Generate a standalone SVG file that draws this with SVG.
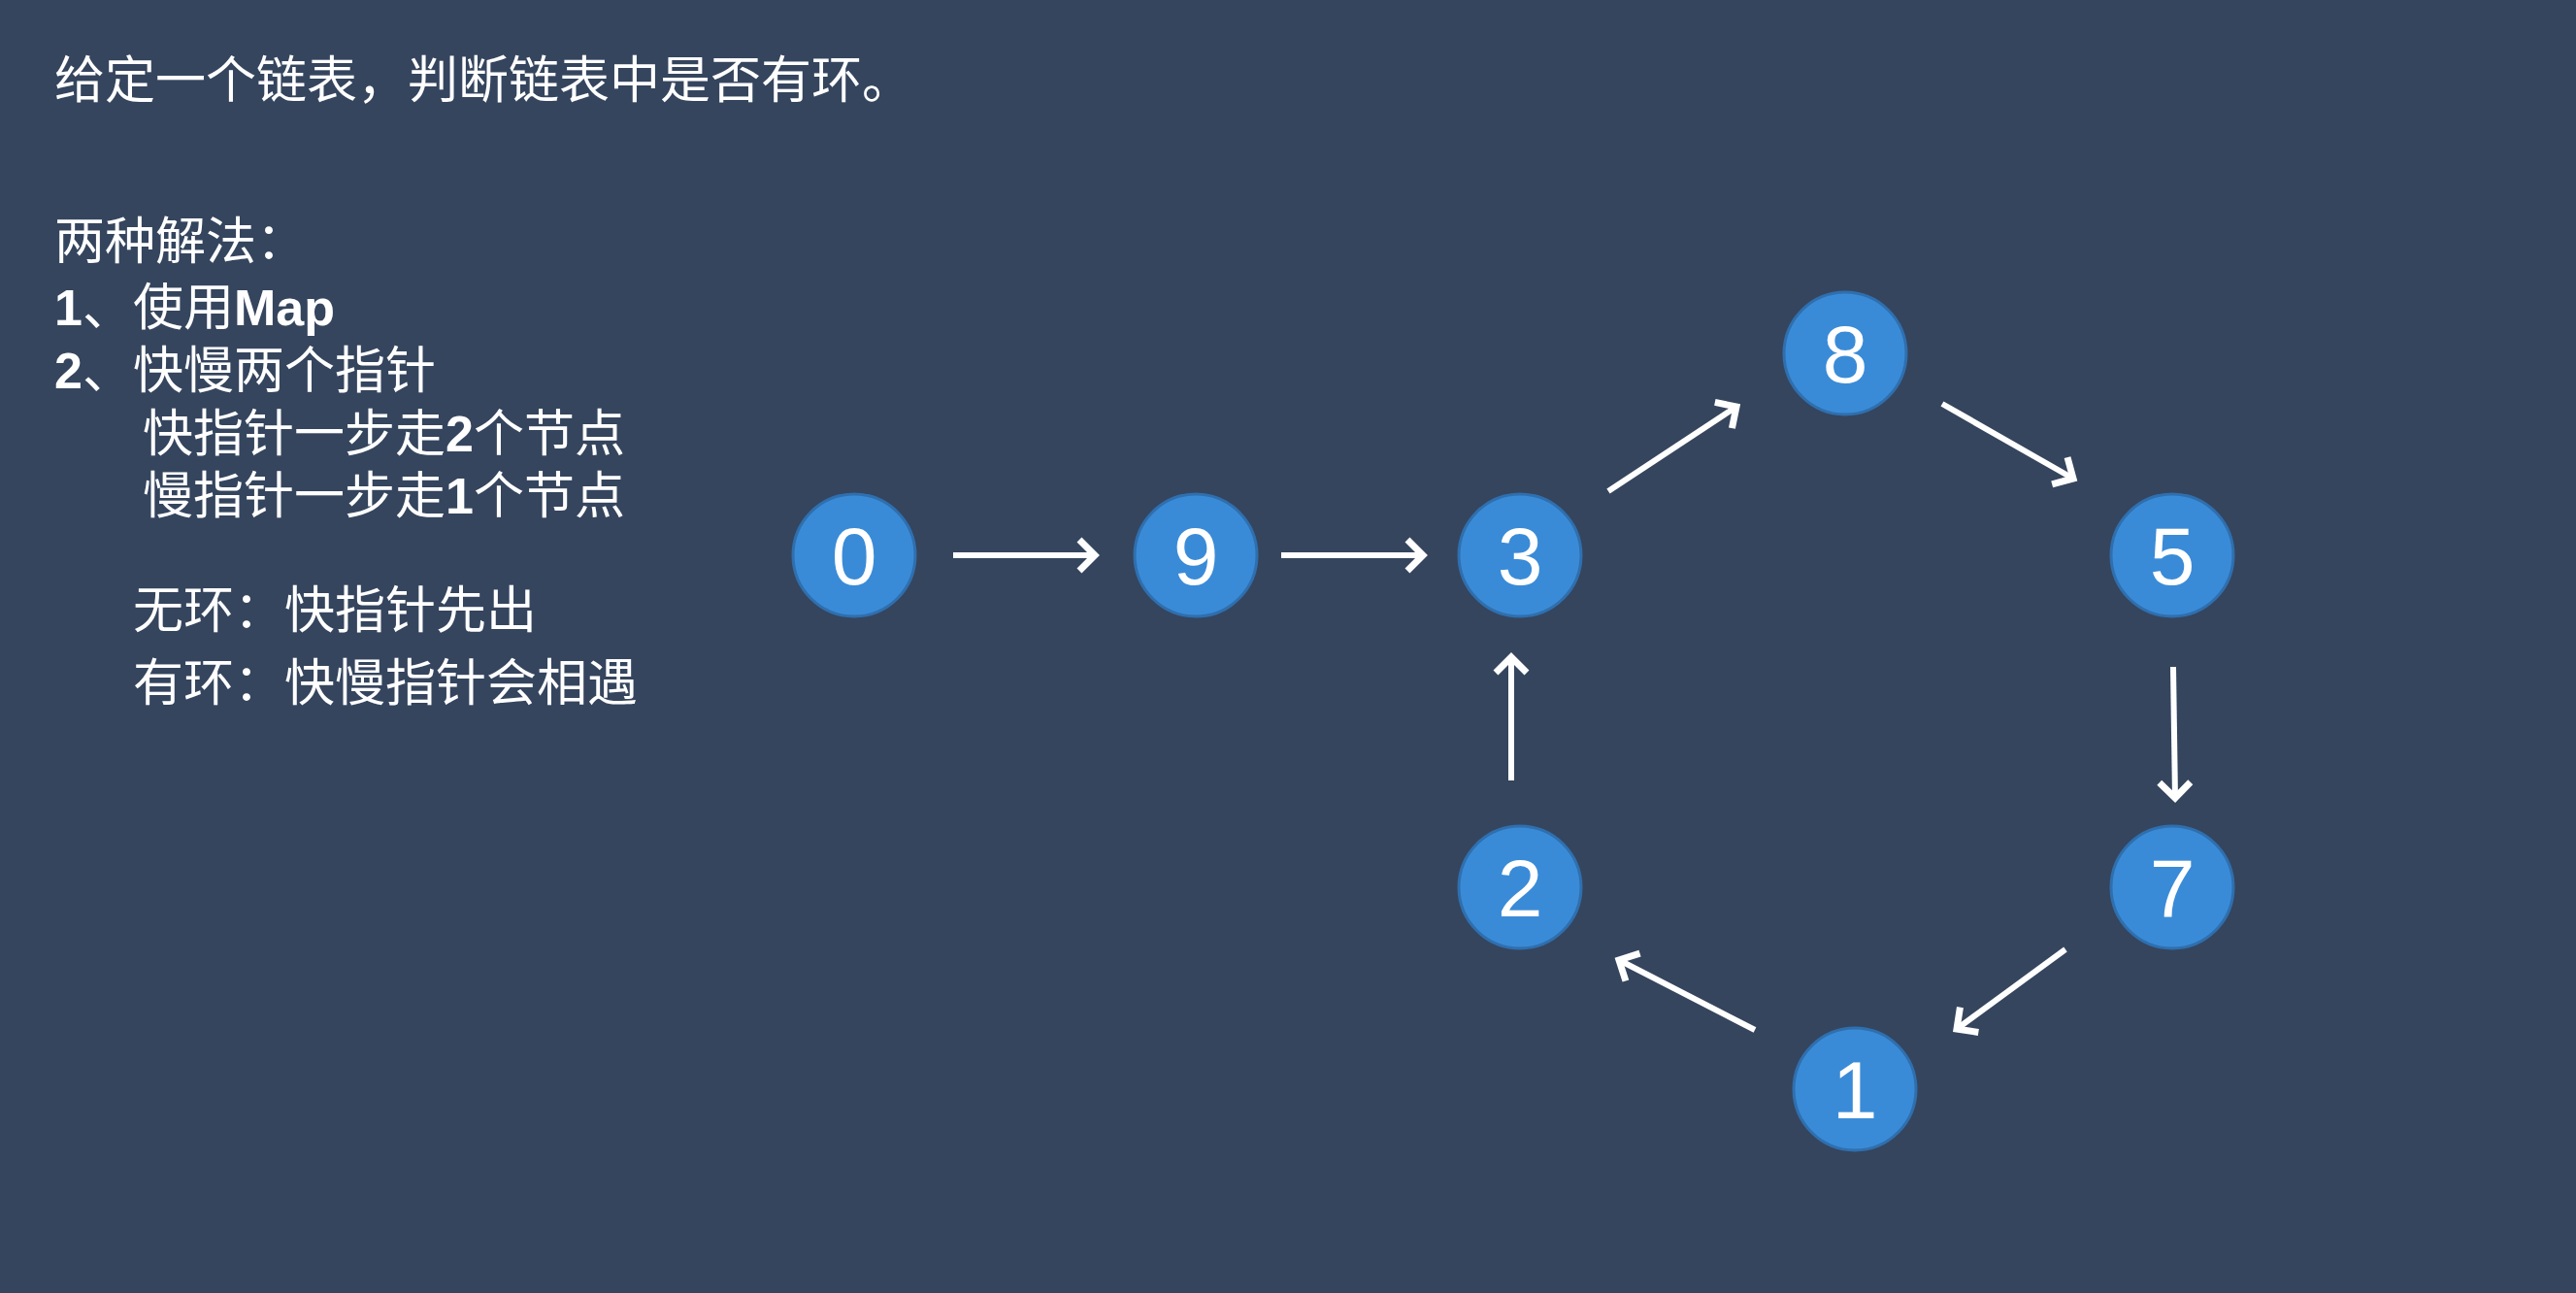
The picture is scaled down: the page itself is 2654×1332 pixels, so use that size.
<svg xmlns="http://www.w3.org/2000/svg" width="2654" height="1332" viewBox="0 0 2654 1332">
<style>
.t{font-family:"Liberation Sans","Noto Sans CJK SC",sans-serif;font-size:52px;fill:#ffffff}
.b{font-weight:bold}
.n{fill:#3a8bd7;stroke:#2f6fae;stroke-width:3}
.d{font-family:"Liberation Sans",Arial,sans-serif;font-size:84px;fill:#ffffff;text-anchor:middle}
.e{stroke:#ffffff;stroke-width:6;fill:none;marker-end:url(#ah)}
</style>
<defs>
<marker id="ah" markerUnits="userSpaceOnUse" markerWidth="40" markerHeight="40" refX="20" refY="20" orient="auto">
<path d="M4 4 L20 20 L4 36" fill="none" stroke="#ffffff" stroke-width="7"/>
</marker>
</defs>
<rect width="2654" height="1332" fill="#35455e"/>
<g id="text">
<text class="t" x="56" y="101">给定一个链表，判断链表中是否有环。</text>
<text class="t" x="56" y="267">两种解法：</text>
<text class="t" x="56" y="335"><tspan class="b">1</tspan>、使用<tspan class="b">Map</tspan></text>
<text class="t" x="56" y="400"><tspan class="b">2</tspan>、快慢两个指针</text>
<text class="t" x="147" y="465">快指针一步走<tspan class="b">2</tspan>个节点</text>
<text class="t" x="147" y="529">慢指针一步走<tspan class="b">1</tspan>个节点</text>
<text class="t" x="137" y="647">无环：快指针先出</text>
<text class="t" x="137" y="722">有环：快慢指针会相遇</text>
</g>
<g id="connectors">
<line class="e" x1="982" y1="572" x2="1128" y2="572"/>
<line class="e" x1="1320" y1="572" x2="1466" y2="572"/>
<line class="e" x1="1657" y1="506" x2="1789" y2="419"/>
<line class="e" x1="2001" y1="416" x2="2136" y2="493"/>
<line class="e" x1="2239" y1="687" x2="2241" y2="822"/>
<line class="e" x1="2128" y1="978" x2="2016" y2="1060"/>
<line class="e" x1="1808" y1="1061" x2="1668" y2="989"/>
<line class="e" x1="1557" y1="804" x2="1557" y2="677"/>
</g>
<g id="n0"><circle class="n" cx="880" cy="572" r="63"/><text class="d" x="880" y="602">0</text></g>
<g id="n9"><circle class="n" cx="1232" cy="572" r="63"/><text class="d" x="1232" y="602">9</text></g>
<g id="n3"><circle class="n" cx="1566" cy="572" r="63"/><text class="d" x="1566" y="602">3</text></g>
<g id="n8"><circle class="n" cx="1901" cy="364" r="63"/><text class="d" x="1901" y="394">8</text></g>
<g id="n5"><circle class="n" cx="2238" cy="572" r="63"/><text class="d" x="2238" y="602">5</text></g>
<g id="n7"><circle class="n" cx="2238" cy="914" r="63"/><text class="d" x="2238" y="944">7</text></g>
<g id="n2"><circle class="n" cx="1566" cy="914" r="63"/><text class="d" x="1566" y="944">2</text></g>
<g id="n1"><circle class="n" cx="1911" cy="1122" r="63"/><text class="d" x="1911" y="1152">1</text></g>
</svg>
